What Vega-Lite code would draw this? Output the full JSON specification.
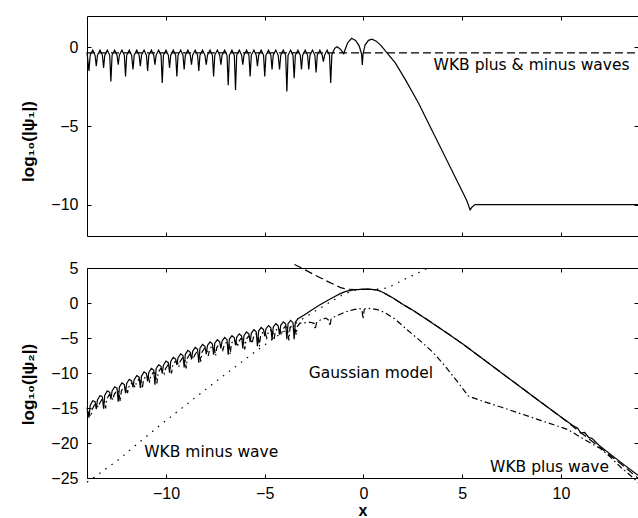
{
"$schema": "https://vega.github.io/schema/vega-lite/v6.json",
"padding": {"left": 5, "top": 15, "right": 1, "bottom": 0},
"spacing": 32,
"bounds": "flush",
"config": {
  "view": {"stroke": "black", "strokeWidth": 1},
  "line": {"clip": true, "strokeWidth": 1.2, "color": "black"},
  "axis": {"grid": false, "domain": false, "tickColor": "black", "tickSize": -4, "tickWidth": 1,
    "labelFont": "Liberation Sans", "labelFontSize": 16, "labelColor": "black", "labelPadding": 13,
    "titleFont": "Liberation Sans", "titleFontWeight": "bold", "titleFontSize": 17, "titleColor": "black"}
},
"vconcat": [
{
  "width": 551, "height": 220,
  "resolve": {"axis": {"x": "independent", "y": "independent"}},
  "layer": [
  {
    "data": {"values": [
{"x":-14.0,"y":-0.3},
{"x":-13.90,"y":-1.5},{"x":-13.84,"y":-0.5},{"x":-13.71,"y":-0.17},{"x":-13.59,"y":-0.5},
{"x":-13.53,"y":-1.2},{"x":-13.47,"y":-0.5},{"x":-13.34,"y":-0.17},{"x":-13.22,"y":-0.5},
{"x":-13.16,"y":-1.3},{"x":-13.10,"y":-0.5},{"x":-12.97,"y":-0.17},{"x":-12.85,"y":-0.5},
{"x":-12.79,"y":-2.16},{"x":-12.73,"y":-0.5},{"x":-12.60,"y":-0.17},{"x":-12.48,"y":-0.5},
{"x":-12.42,"y":-1.1},{"x":-12.36,"y":-0.5},{"x":-12.23,"y":-0.17},{"x":-12.11,"y":-0.5},
{"x":-12.05,"y":-1.84},{"x":-11.99,"y":-0.5},{"x":-11.86,"y":-0.17},{"x":-11.74,"y":-0.5},
{"x":-11.67,"y":-1.4},{"x":-11.61,"y":-0.5},{"x":-11.48,"y":-0.17},{"x":-11.36,"y":-0.5},
{"x":-11.30,"y":-1.2},{"x":-11.24,"y":-0.5},{"x":-11.11,"y":-0.17},{"x":-10.99,"y":-0.5},
{"x":-10.93,"y":-1.5},{"x":-10.87,"y":-0.5},{"x":-10.74,"y":-0.17},{"x":-10.62,"y":-0.5},
{"x":-10.56,"y":-1.1},{"x":-10.50,"y":-0.5},{"x":-10.37,"y":-0.17},{"x":-10.25,"y":-0.5},
{"x":-10.19,"y":-2.26},{"x":-10.13,"y":-0.5},{"x":-10.00,"y":-0.17},{"x":-9.88,"y":-0.5},
{"x":-9.82,"y":-1.3},{"x":-9.76,"y":-0.5},{"x":-9.63,"y":-0.17},{"x":-9.51,"y":-0.5},
{"x":-9.45,"y":-1.84},{"x":-9.39,"y":-0.5},{"x":-9.26,"y":-0.17},{"x":-9.14,"y":-0.5},
{"x":-9.08,"y":-1.4},{"x":-9.02,"y":-0.5},{"x":-8.89,"y":-0.17},{"x":-8.77,"y":-0.5},
{"x":-8.71,"y":-1.1},{"x":-8.65,"y":-0.5},{"x":-8.52,"y":-0.17},{"x":-8.40,"y":-0.5},
{"x":-8.34,"y":-1.5},{"x":-8.28,"y":-0.5},{"x":-8.15,"y":-0.17},{"x":-8.03,"y":-0.5},
{"x":-7.96,"y":-1.1},{"x":-7.90,"y":-0.5},{"x":-7.77,"y":-0.17},{"x":-7.65,"y":-0.5},
{"x":-7.59,"y":-1.84},{"x":-7.53,"y":-0.5},{"x":-7.40,"y":-0.17},{"x":-7.28,"y":-0.5},
{"x":-7.22,"y":-1.1},{"x":-7.16,"y":-0.5},{"x":-7.03,"y":-0.17},{"x":-6.91,"y":-0.5},
{"x":-6.85,"y":-2.4},{"x":-6.79,"y":-0.5},{"x":-6.66,"y":-0.17},{"x":-6.54,"y":-0.5},
{"x":-6.48,"y":-2.7},{"x":-6.42,"y":-0.5},{"x":-6.29,"y":-0.17},{"x":-6.17,"y":-0.5},
{"x":-6.11,"y":-1.1},{"x":-6.05,"y":-0.5},{"x":-5.92,"y":-0.17},{"x":-5.80,"y":-0.5},
{"x":-5.74,"y":-1.84},{"x":-5.68,"y":-0.5},{"x":-5.55,"y":-0.17},{"x":-5.43,"y":-0.5},
{"x":-5.37,"y":-1.2},{"x":-5.31,"y":-0.5},{"x":-5.18,"y":-0.17},{"x":-5.06,"y":-0.5},
{"x":-5.00,"y":-1.84},{"x":-4.94,"y":-0.5},{"x":-4.81,"y":-0.17},{"x":-4.69,"y":-0.5},
{"x":-4.63,"y":-1.4},{"x":-4.57,"y":-0.5},{"x":-4.44,"y":-0.17},{"x":-4.32,"y":-0.5},
{"x":-4.25,"y":-1.4},{"x":-4.19,"y":-0.5},{"x":-4.06,"y":-0.17},{"x":-3.94,"y":-0.5},
{"x":-3.88,"y":-2.8},{"x":-3.82,"y":-0.5},{"x":-3.69,"y":-0.17},{"x":-3.57,"y":-0.5},
{"x":-3.51,"y":-1.96},{"x":-3.45,"y":-0.5},{"x":-3.32,"y":-0.17},{"x":-3.20,"y":-0.5},
{"x":-3.14,"y":-1.4},{"x":-3.08,"y":-0.5},{"x":-2.95,"y":-0.17},{"x":-2.83,"y":-0.5},
{"x":-2.77,"y":-1.4},{"x":-2.71,"y":-0.5},{"x":-2.58,"y":-0.17},{"x":-2.46,"y":-0.5},
{"x":-2.40,"y":-1.6},{"x":-2.34,"y":-0.5},{"x":-2.21,"y":-0.17},{"x":-2.09,"y":-0.5},
{"x":-2.03,"y":-0.9},{"x":-1.97,"y":-0.5},{"x":-1.84,"y":-0.17},{"x":-1.72,"y":-0.5},
{"x":-1.66,"y":-2.26},{"x":-1.60,"y":-0.45},{"x":-1.45,"y":-0.05},{"x":-1.33,"y":0.04},
{"x":-1.2,"y":-0.08},{"x":-1.05,"y":-0.3},{"x":-1.0,"y":-0.4},{"x":-0.92,"y":-0.1},
{"x":-0.8,"y":0.3},{"x":-0.6,"y":0.58},{"x":-0.4,"y":0.45},{"x":-0.22,"y":0.1},
{"x":-0.1,"y":-0.4},{"x":-0.06,"y":-1.12},{"x":-0.02,"y":-0.4},{"x":0.08,"y":0.15},
{"x":0.25,"y":0.45},{"x":0.43,"y":0.52},{"x":0.65,"y":0.4},{"x":0.9,"y":0.1},
{"x":1.19,"y":-0.34},{"x":1.61,"y":-0.98},{"x":2.12,"y":-2.05},{"x":2.79,"y":-3.55},
{"x":3.46,"y":-5.26},{"x":4.14,"y":-6.97},{"x":4.81,"y":-8.67},{"x":5.23,"y":-9.74},
{"x":5.40,"y":-10.34},{"x":5.5,"y":-10.15},{"x":5.65,"y":-10.0},{"x":13.9,"y":-10.0}
    ]},
    "mark": {"type": "line"},
    "encoding": {
      "x": {"field": "x", "type": "quantitative", "scale": {"domain": [-14, 13.9], "nice": false, "zero": false},
        "axis": {"orient": "bottom", "values": [-10, -5, 0, 5, 10], "labels": false, "title": null, "minExtent": 0, "maxExtent": 0}},
      "y": {"field": "y", "type": "quantitative", "scale": {"domain": [-12, 2], "nice": false, "zero": false},
        "axis": {"orient": "left", "values": [-10, -5, 0], "title": "log₁₀(|ψ₁|)", "minExtent": 81, "maxExtent": 81,
          "titleX": -59, "titleY": 125, "titleBaseline": "middle", "titleAlign": "center", "titleAngle": -90}}
    }
  },
  {
    "data": {"values": [{"x":-14.0,"y":-0.35},{"x":13.9,"y":-0.35}]},
    "mark": {"type": "line", "strokeDash": [8, 4]},
    "encoding": {
      "x": {"field": "x", "type": "quantitative", "scale": {"domain": [-14, 13.9], "nice": false, "zero": false}, "axis": null},
      "y": {"field": "y", "type": "quantitative", "scale": {"domain": [-12, 2], "nice": false, "zero": false}, "axis": null}
    }
  },
  {
    "data": {"values": [{"x": 3.55, "y": -1.09, "t": "WKB plus & minus waves"}]},
    "mark": {"type": "text", "align": "left", "baseline": "middle", "font": "DejaVu Sans", "fontSize": 15.5, "color": "black"},
    "encoding": {
      "x": {"field": "x", "type": "quantitative", "scale": {"domain": [-14, 13.9], "nice": false, "zero": false},
        "axis": {"orient": "top", "values": [-10, -5, 0, 5, 10], "labels": false, "title": null, "minExtent": 0, "maxExtent": 0}},
      "y": {"field": "y", "type": "quantitative", "scale": {"domain": [-12, 2], "nice": false, "zero": false},
        "axis": {"orient": "right", "values": [-10, -5, 0], "labels": false, "title": null, "minExtent": 0, "maxExtent": 0}},
      "text": {"field": "t"}
    }
  }
  ]
},
{
  "width": 551, "height": 210,
  "resolve": {"axis": {"x": "independent", "y": "independent"}},
  "layer": [
  {
    "data": {"values": [
{"x":-14.0,"y":-15.4},
{"x":-13.80,"y":-16.2},{"x":-13.74,"y":-15.2},{"x":-13.61,"y":-14.51},{"x":-13.49,"y":-14.65},
{"x":-13.43,"y":-14.9},{"x":-13.37,"y":-14.4},{"x":-13.24,"y":-13.76},{"x":-13.12,"y":-13.95},
{"x":-13.06,"y":-15.06},{"x":-13.00,"y":-13.73},{"x":-12.87,"y":-13.1},{"x":-12.75,"y":-13.31},
{"x":-12.69,"y":-13.85},{"x":-12.63,"y":-13.12},{"x":-12.50,"y":-12.51},{"x":-12.38,"y":-12.72},
{"x":-12.32,"y":-14.1},{"x":-12.26,"y":-12.55},{"x":-12.13,"y":-11.97},{"x":-12.01,"y":-12.2},
{"x":-11.95,"y":-12.88},{"x":-11.89,"y":-12.04},{"x":-11.76,"y":-11.45},{"x":-11.64,"y":-11.69},
{"x":-11.57,"y":-12.05},{"x":-11.51,"y":-11.5},{"x":-11.38,"y":-10.92},{"x":-11.26,"y":-11.15},
{"x":-11.20,"y":-12.23},{"x":-11.14,"y":-10.99},{"x":-11.01,"y":-10.4},{"x":-10.89,"y":-10.64},
{"x":-10.83,"y":-11.21},{"x":-10.77,"y":-10.47},{"x":-10.64,"y":-9.89},{"x":-10.52,"y":-10.12},
{"x":-10.46,"y":-11.49},{"x":-10.40,"y":-9.95},{"x":-10.27,"y":-9.37},{"x":-10.15,"y":-9.6},
{"x":-10.09,"y":-10.08},{"x":-10.03,"y":-9.43},{"x":-9.90,"y":-8.85},{"x":-9.78,"y":-9.08},
{"x":-9.72,"y":-10.06},{"x":-9.66,"y":-8.91},{"x":-9.53,"y":-8.33},{"x":-9.41,"y":-8.56},
{"x":-9.35,"y":-9.14},{"x":-9.29,"y":-8.4},{"x":-9.16,"y":-7.81},{"x":-9.04,"y":-8.05},
{"x":-8.98,"y":-9.33},{"x":-8.92,"y":-7.88},{"x":-8.79,"y":-7.32},{"x":-8.67,"y":-7.59},
{"x":-8.61,"y":-8.0},{"x":-8.55,"y":-7.45},{"x":-8.42,"y":-6.9},{"x":-8.30,"y":-7.16},
{"x":-8.24,"y":-8.38},{"x":-8.18,"y":-7.02},{"x":-8.05,"y":-6.47},{"x":-7.93,"y":-6.73},
{"x":-7.86,"y":-7.55},{"x":-7.80,"y":-6.69},{"x":-7.67,"y":-6.17},{"x":-7.55,"y":-6.47},
{"x":-7.49,"y":-7.54},{"x":-7.43,"y":-6.37},{"x":-7.30,"y":-5.86},{"x":-7.18,"y":-6.16},
{"x":-7.12,"y":-6.72},{"x":-7.06,"y":-6.06},{"x":-6.93,"y":-5.55},{"x":-6.81,"y":-5.86},
{"x":-6.75,"y":-7.35},{"x":-6.69,"y":-5.77},{"x":-6.56,"y":-5.28},{"x":-6.44,"y":-5.6},
{"x":-6.38,"y":-6.29},{"x":-6.32,"y":-5.51},{"x":-6.19,"y":-5.02},{"x":-6.07,"y":-5.34},
{"x":-6.01,"y":-6.63},{"x":-5.95,"y":-5.26},{"x":-5.82,"y":-4.75},{"x":-5.70,"y":-5.05},
{"x":-5.64,"y":-5.81},{"x":-5.58,"y":-4.95},{"x":-5.45,"y":-4.44},{"x":-5.33,"y":-4.74},
{"x":-5.27,"y":-6.2},{"x":-5.21,"y":-4.63},{"x":-5.08,"y":-4.12},{"x":-4.96,"y":-4.42},
{"x":-4.90,"y":-5.0},{"x":-4.84,"y":-4.33},{"x":-4.71,"y":-3.84},{"x":-4.59,"y":-4.15},
{"x":-4.53,"y":-5.34},{"x":-4.47,"y":-4.07},{"x":-4.34,"y":-3.58},{"x":-4.22,"y":-3.89},
{"x":-4.15,"y":-4.58},{"x":-4.09,"y":-3.8},{"x":-3.96,"y":-3.31},{"x":-3.84,"y":-3.64},
{"x":-3.78,"y":-5.34},{"x":-3.72,"y":-3.57},{"x":-3.59,"y":-3.09},{"x":-3.47,"y":-3.43},
{"x":-3.41,"y":-4.53},{"x":-3.35,"y":-3.36},{"x":-3.22,"y":-2.88},
{"x":-3.0,"y":-2.83},{"x":-2.7,"y":-2.75},{"x":-2.5,"y":-2.9},{"x":-2.45,"y":-3.8},
{"x":-2.38,"y":-2.85},{"x":-2.17,"y":-2.4},{"x":-1.9,"y":-2.15},{"x":-1.75,"y":-2.5},
{"x":-1.7,"y":-3.3},{"x":-1.64,"y":-2.3},{"x":-1.49,"y":-2.0},{"x":-1.3,"y":-1.75},
{"x":-1.1,"y":-1.5},{"x":-0.82,"y":-1.2},{"x":-0.5,"y":-0.95},{"x":-0.2,"y":-0.8},
{"x":-0.08,"y":-0.9},{"x":-0.02,"y":-2.3},{"x":0.04,"y":-0.9},{"x":0.15,"y":-0.76},
{"x":0.4,"y":-0.8},{"x":0.7,"y":-0.95},{"x":1.1,"y":-1.39},{"x":1.6,"y":-2.3},
{"x":2.2,"y":-3.8},{"x":2.79,"y":-5.2},{"x":3.5,"y":-7.0},{"x":4.14,"y":-9.04},
{"x":4.8,"y":-11.4},{"x":5.31,"y":-13.3},{"x":6.0,"y":-14.0},{"x":7.0,"y":-14.9},
{"x":7.84,"y":-15.7},{"x":9.0,"y":-16.8},{"x":10.37,"y":-18.1},{"x":11.0,"y":-19.2},
{"x":11.5,"y":-20.0},{"x":12.0,"y":-20.8},{"x":12.5,"y":-22.0},{"x":13.0,"y":-23.4},
{"x":13.5,"y":-24.6},{"x":13.9,"y":-25.6}
    ]},
    "mark": {"type": "line", "strokeDash": [6, 3, 1.5, 3]},
    "encoding": {
      "x": {"field": "x", "type": "quantitative", "scale": {"domain": [-14, 13.9], "nice": false, "zero": false}, "axis": null},
      "y": {"field": "y", "type": "quantitative", "scale": {"domain": [-25, 5], "nice": false, "zero": false}, "axis": null}
    }
  },
  {
    "data": {"values": [
{"x":-3.5,"y":5.5},{"x":-3.18,"y":5.07},{"x":-2.5,"y":4.05},{"x":-1.8,"y":3.05},
{"x":-1.16,"y":2.2},{"x":-0.8,"y":1.97},{"x":-0.4,"y":1.93},{"x":0.0,"y":1.96},
{"x":0.3,"y":1.97},{"x":0.7,"y":1.86},{"x":1.0,"y":1.5},{"x":1.5,"y":0.7},
{"x":2.0,"y":-0.2},{"x":2.5,"y":-1.05},{"x":3.0,"y":-1.95},{"x":4.0,"y":-3.85},
{"x":5.0,"y":-5.8},{"x":6.0,"y":-7.9},{"x":8.0,"y":-12.1},{"x":10.0,"y":-16.3},
{"x":12.0,"y":-20.7},{"x":13.0,"y":-22.9},{"x":13.9,"y":-25.0}
    ]},
    "mark": {"type": "line", "strokeDash": [8, 4]},
    "encoding": {
      "x": {"field": "x", "type": "quantitative", "scale": {"domain": [-14, 13.9], "nice": false, "zero": false}, "axis": null},
      "y": {"field": "y", "type": "quantitative", "scale": {"domain": [-25, 5], "nice": false, "zero": false}, "axis": null}
    }
  },
  {
    "data": {"values": [
{"x":-14.0,"y":-25.6},{"x":-13.59,"y":-24.8},{"x":-12.41,"y":-22.4},{"x":-11.4,"y":-20.0},
{"x":-10.05,"y":-16.9},{"x":-8.87,"y":-14.3},{"x":-7.47,"y":-11.2},{"x":-6.3,"y":-8.7},
{"x":-5.45,"y":-6.89},{"x":-4.61,"y":-5.2},{"x":-4.0,"y":-4.0},{"x":-3.0,"y":-2.1},
{"x":-2.0,"y":-0.4},{"x":-1.5,"y":0.45},{"x":-1.0,"y":1.25},{"x":-0.5,"y":1.8},
{"x":0.0,"y":1.95},{"x":0.5,"y":1.95},{"x":0.9,"y":2.0},{"x":1.2,"y":2.15},
{"x":1.6,"y":2.7},{"x":2.0,"y":3.3},{"x":2.5,"y":3.95},{"x":2.97,"y":4.59},
{"x":3.4,"y":5.2}
    ]},
    "mark": {"type": "line", "strokeDash": [1.5, 6]},
    "encoding": {
      "x": {"field": "x", "type": "quantitative", "scale": {"domain": [-14, 13.9], "nice": false, "zero": false}, "axis": null},
      "y": {"field": "y", "type": "quantitative", "scale": {"domain": [-25, 5], "nice": false, "zero": false}, "axis": null}
    }
  },
  {
    "data": {"values": [
{"x":-14.0,"y":-14.95},
{"x":-13.90,"y":-16.38},{"x":-13.84,"y":-14.65},{"x":-13.71,"y":-13.96},{"x":-13.59,"y":-14.10},
{"x":-13.53,"y":-15.17},{"x":-13.47,"y":-13.85},{"x":-13.34,"y":-13.21},{"x":-13.22,"y":-13.40},
{"x":-13.16,"y":-15.09},{"x":-13.10,"y":-13.18},{"x":-12.97,"y":-12.55},{"x":-12.85,"y":-12.76},
{"x":-12.79,"y":-13.76},{"x":-12.73,"y":-12.57},{"x":-12.60,"y":-11.96},{"x":-12.48,"y":-12.17},
{"x":-12.42,"y":-14.09},{"x":-12.36,"y":-12.00},{"x":-12.23,"y":-11.42},{"x":-12.11,"y":-11.65},
{"x":-12.05,"y":-12.87},{"x":-11.99,"y":-11.49},{"x":-11.86,"y":-10.90},{"x":-11.74,"y":-11.14},
{"x":-11.67,"y":-12.04},{"x":-11.61,"y":-10.95},{"x":-11.48,"y":-10.37},{"x":-11.36,"y":-10.60},
{"x":-11.30,"y":-12.12},{"x":-11.24,"y":-10.44},{"x":-11.11,"y":-9.85},{"x":-10.99,"y":-10.09},
{"x":-10.93,"y":-11.20},{"x":-10.87,"y":-9.92},{"x":-10.74,"y":-9.34},{"x":-10.62,"y":-9.57},
{"x":-10.56,"y":-11.68},{"x":-10.50,"y":-9.40},{"x":-10.37,"y":-8.82},{"x":-10.25,"y":-9.05},
{"x":-10.19,"y":-10.07},{"x":-10.13,"y":-8.88},{"x":-10.00,"y":-8.30},{"x":-9.88,"y":-8.53},
{"x":-9.82,"y":-9.95},{"x":-9.76,"y":-8.36},{"x":-9.63,"y":-7.78},{"x":-9.51,"y":-8.01},
{"x":-9.45,"y":-8.83},{"x":-9.39,"y":-7.85},{"x":-9.26,"y":-7.26},{"x":-9.14,"y":-7.50},
{"x":-9.08,"y":-9.21},{"x":-9.02,"y":-7.33},{"x":-8.89,"y":-6.77},{"x":-8.77,"y":-7.04},
{"x":-8.71,"y":-8.07},{"x":-8.65,"y":-6.90},{"x":-8.52,"y":-6.35},{"x":-8.40,"y":-6.61},
{"x":-8.34,"y":-8.54},{"x":-8.28,"y":-6.47},{"x":-8.15,"y":-5.92},{"x":-8.03,"y":-6.18},
{"x":-7.96,"y":-7.32},{"x":-7.90,"y":-6.07},{"x":-7.77,"y":-5.55},{"x":-7.65,"y":-5.85},
{"x":-7.59,"y":-7.40},{"x":-7.53,"y":-5.75},{"x":-7.40,"y":-5.24},{"x":-7.28,"y":-5.54},
{"x":-7.22,"y":-6.49},{"x":-7.16,"y":-5.44},{"x":-7.03,"y":-4.93},{"x":-6.91,"y":-5.24},
{"x":-6.85,"y":-7.40},{"x":-6.79,"y":-5.15},{"x":-6.66,"y":-4.66},{"x":-6.54,"y":-4.98},
{"x":-6.48,"y":-6.04},{"x":-6.42,"y":-4.89},{"x":-6.29,"y":-4.40},{"x":-6.17,"y":-4.72},
{"x":-6.11,"y":-6.48},{"x":-6.05,"y":-4.64},{"x":-5.92,"y":-4.13},{"x":-5.80,"y":-4.43},
{"x":-5.74,"y":-5.58},{"x":-5.68,"y":-4.33},{"x":-5.55,"y":-3.82},{"x":-5.43,"y":-4.12},
{"x":-5.37,"y":-6.16},{"x":-5.31,"y":-4.01},{"x":-5.18,"y":-3.50},{"x":-5.06,"y":-3.80},
{"x":-5.00,"y":-4.75},{"x":-4.94,"y":-3.71},{"x":-4.81,"y":-3.22},{"x":-4.69,"y":-3.53},
{"x":-4.63,"y":-5.29},{"x":-4.57,"y":-3.45},{"x":-4.44,"y":-2.96},{"x":-4.32,"y":-3.27},
{"x":-4.25,"y":-4.53},{"x":-4.19,"y":-3.18},{"x":-4.06,"y":-2.69},{"x":-3.94,"y":-3.02},
{"x":-3.88,"y":-5.18},{"x":-3.82,"y":-2.95},{"x":-3.69,"y":-2.47},{"x":-3.57,"y":-2.81},
{"x":-3.51,"y":-5.17},{"x":-3.45,"y":-2.74},{"x":-3.32,"y":-2.26},
{"x":-3.0,"y":-1.7},{"x":-2.6,"y":-0.95},{"x":-2.2,"y":-0.25},{"x":-1.8,"y":0.4},
{"x":-1.5,"y":0.85},{"x":-1.2,"y":1.3},{"x":-0.9,"y":1.65},{"x":-0.5,"y":1.88},
{"x":-0.14,"y":1.96},{"x":0.3,"y":1.97},{"x":0.7,"y":1.86},{"x":1.0,"y":1.5},
{"x":1.5,"y":0.7},{"x":2.0,"y":-0.2},{"x":2.5,"y":-1.05},{"x":3.0,"y":-1.95},
{"x":4.0,"y":-3.85},{"x":5.0,"y":-5.8},{"x":6.0,"y":-7.9},{"x":8.0,"y":-12.1},
{"x":9.0,"y":-14.2},{"x":10.0,"y":-16.3},{"x":10.6,"y":-17.5},{"x":10.85,"y":-17.9},
{"x":11.0,"y":-18.6},{"x":11.2,"y":-18.5},{"x":11.4,"y":-19.2},{"x":11.6,"y":-19.4},
{"x":11.8,"y":-20.0},{"x":12.0,"y":-20.5},{"x":13.0,"y":-22.7},{"x":13.9,"y":-24.6}
    ]},
    "mark": {"type": "line"},
    "encoding": {
      "x": {"field": "x", "type": "quantitative", "scale": {"domain": [-14, 13.9], "nice": false, "zero": false},
        "axis": {"orient": "bottom", "values": [-10, -5, 0, 5, 10], "labelPadding": 11, "title": "x", "titleFontSize": 16, "titleY": 37, "titleBaseline": "alphabetic"}},
      "y": {"field": "y", "type": "quantitative", "scale": {"domain": [-25, 5], "nice": false, "zero": false},
        "axis": {"orient": "left", "values": [-25, -20, -15, -10, -5, 0, 5], "title": "log₁₀(|ψ₂|)", "minExtent": 81, "maxExtent": 81,
          "titleX": -59, "titleY": 116, "titleBaseline": "middle", "titleAlign": "center", "titleAngle": -90}}
    }
  },
  {
    "data": {"values": [
      {"x": -2.77, "y": -10.0, "t": "Gaussian model"},
      {"x": -11.1, "y": -21.23, "t": "WKB minus wave"},
      {"x": 6.41, "y": -23.4, "t": "WKB plus wave"}
    ]},
    "mark": {"type": "text", "align": "left", "baseline": "middle", "font": "DejaVu Sans", "fontSize": 15.5, "color": "black"},
    "encoding": {
      "x": {"field": "x", "type": "quantitative", "scale": {"domain": [-14, 13.9], "nice": false, "zero": false},
        "axis": {"orient": "top", "values": [-10, -5, 0, 5, 10], "labels": false, "title": null, "minExtent": 0, "maxExtent": 0}},
      "y": {"field": "y", "type": "quantitative", "scale": {"domain": [-25, 5], "nice": false, "zero": false},
        "axis": {"orient": "right", "values": [-25, -20, -15, -10, -5, 0, 5], "labels": false, "title": null, "minExtent": 0, "maxExtent": 0}},
      "text": {"field": "t"}
    }
  }
  ]
}
]
}
